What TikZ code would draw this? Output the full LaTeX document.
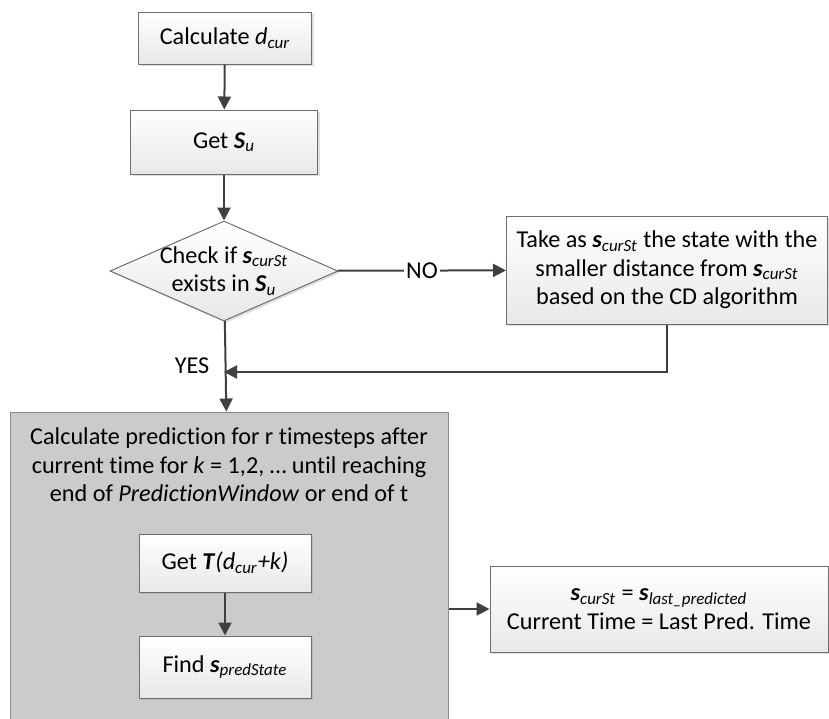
\documentclass[tikz,border=0pt]{standalone}
\usepackage{fontspec}
\setmainfont{Carlito}[Ligatures=NoCommon]
\usetikzlibrary{arrows.meta,shapes.geometric,shadows}
\definecolor{linegray}{HTML}{404040}
\definecolor{edgegray}{HTML}{6E6E6E}
\definecolor{panelgray}{HTML}{CBCBCB}
\newcommand{\bfit}[1]{\textbf{\textit{#1}}}
\newcommand{\lowsub}[1]{\textsubscript{\textit{#1}}}
\begin{document}
\begin{tikzpicture}[x=0.5pt,y=-0.5pt,
    font=\fontsize{12.1}{14.3}\selectfont,
    box/.style={draw=edgegray,line width=0.5pt,top color=white,bottom color=black!9,
      drop shadow={shadow xshift=1pt,shadow yshift=-1pt,opacity=0.25},align=center,inner sep=2pt},
    decision/.style={box,diamond,aspect=2.28,inner sep=-4.5pt},
    panel/.style={draw=edgegray!80,line width=0.5pt,fill=panelgray},
    flow/.style={draw=linegray,line width=1pt,-{Triangle[length=6.5pt,width=6.5pt]}},
    plain/.style={draw=linegray,line width=1pt}]
  \useasboundingbox (0,0) rectangle (829,718);
  \node[box,minimum width=86.5pt,minimum height=26pt] (calc) at (225,38) {Calculate \textit{d}\lowsub{cur}};
  \node[box,minimum width=93.5pt,minimum height=32pt] (getsu) at (224,142) {Get \bfit{S}\lowsub{u}};
  \node[decision,minimum width=114pt,minimum height=50pt] (check) at (224,271) {Check if \bfit{s}\lowsub{curSt}\\exists in \bfit{S}\lowsub{u}};
  \node[box,minimum width=160.5pt,minimum height=54pt] (take) at (667,270) {Take as \bfit{s}\lowsub{curSt} the state with the\\smaller distance from \bfit{s}\lowsub{curSt}\\based on the CD algorithm};
  \coordinate (join) at (224,372);
  \node[panel,minimum width=219pt,minimum height=162pt] (predict) at (229,574) {};
  \node[align=center] (predtext) at (229,465) {Calculate prediction for r timesteps after\\current time for \textit{k} = 1,2, … until reaching\\end of \textit{PredictionWindow} or end of t};
  \node[box,minimum width=86pt,minimum height=29pt] (gett) at (225,563) {Get \bfit{T}\textit{(d}\lowsub{cur}\textit{+k)}};
  \node[box,minimum width=86pt,minimum height=31pt] (find) at (225,667) {Find \bfit{s}\lowsub{predState}};
  \node[box,minimum width=169pt,minimum height=43pt] (update) at (659,609) {\bfit{s}\lowsub{curSt} = \bfit{s}\lowsub{last\_predicted}\\Current Time = Last Pred. Time};
  \node (yes) at (192,366) {YES};

  \draw[flow] (calc) -- (getsu);
  \draw[flow] (getsu) -- (check);
  \draw[flow] (check) -- node[fill=white,inner sep=1pt] (no) {NO} (take);
  \draw[flow] (take.south) |- (join);
  \draw[flow] (check) -- (predict);
  \draw[flow] (gett) -- (find);
  \draw[flow] (predict.east |- update.west) -- (update);
\end{tikzpicture}
\end{document}
